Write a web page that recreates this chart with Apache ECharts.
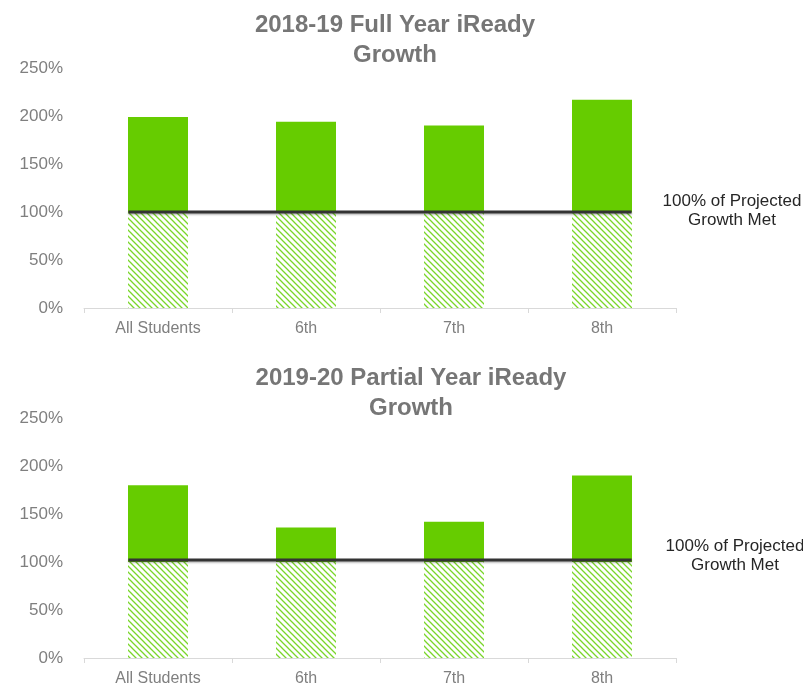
<!DOCTYPE html>
<html>
<head>
<meta charset="utf-8">
<script src="https://cdn.jsdelivr.net/npm/echarts@6/dist/echarts.min.js"></script>
<style>
  html, body { margin: 0; padding: 0; background: #fff; }
  #wrap { width: 803px; height: 690px; }
</style>
</head>
<body>
<div id="wrap"></div>
<script>
// data
var categories = ['All Students', '6th', '7th', '8th'];
var growth1819 = [199, 194, 190, 217];
var growth1920 = [180, 136, 142, 190];
var baseline = [100, 100, 100, 100];     // hatched part of every bar
var target1819 = 100;                    // black "100%" line
var target1920 = 102;
var lineSpan = [-0.2, 3.2];              // line runs from first bar edge to last bar edge
var yTicks = [0, 250, 50];               // min, max, interval

var titles = ['2018-19 Full Year iReady\nGrowth', '2019-20 Partial Year iReady\nGrowth'];
var note = '100% of Projected\nGrowth Met';

var font = 'Liberation Sans, Arial, sans-serif';
var green = '#66cc00';

// diagonal hatch for the part below 100%
function hatch() {
  var c = document.createElement('canvas');
  c.width = 6; c.height = 6;
  var ctx = c.getContext('2d');
  ctx.strokeStyle = '#7ad62a';
  ctx.lineWidth = 1.3;
  ctx.beginPath();
  ctx.moveTo(-1, -1); ctx.lineTo(7, 7);
  ctx.moveTo(-1, 5); ctx.lineTo(1, 7);
  ctx.moveTo(5, -1); ctx.lineTo(7, 1);
  ctx.stroke();
  return c;
}
var pattern = { image: hatch(), repeat: 'repeat' };

function above(vals) {
  return vals.map(function (v, i) { return v - baseline[i]; });
}

function catAxis(idx) {
  return {
    type: 'category', gridIndex: idx, data: categories,
    axisLine: { lineStyle: { color: '#d9d9d9', width: 1 } },
    axisTick: { show: true, length: 5, lineStyle: { color: '#d9d9d9' } },
    axisLabel: { color: '#7f7f7f', fontSize: 16, fontFamily: font, margin: 13 }
  };
}
function spanAxis(idx) {
  return { type: 'value', gridIndex: idx, min: -0.5, max: 3.5, show: false };
}
function valAxis(idx) {
  return {
    type: 'value', gridIndex: idx, min: yTicks[0], max: yTicks[1], interval: yTicks[2],
    axisLine: { show: false }, axisTick: { show: false }, splitLine: { show: false },
    axisLabel: { formatter: '{value}%', color: '#7f7f7f', fontSize: 17, fontFamily: font, margin: 21 }
  };
}
function barSeries(idx, vals) {
  return [
    {
      type: 'bar', xAxisIndex: idx * 2, yAxisIndex: idx, stack: 's' + idx,
      barWidth: 60, data: baseline, silent: true,
      itemStyle: { color: pattern }
    },
    {
      type: 'bar', xAxisIndex: idx * 2, yAxisIndex: idx, stack: 's' + idx,
      barWidth: 60, data: above(vals), silent: true,
      itemStyle: { color: green }
    }
  ];
}
function lineSeries(idx, t) {
  return {
    type: 'line', xAxisIndex: idx * 2 + 1, yAxisIndex: idx, symbol: 'none', silent: true,
    data: [[lineSpan[0], t], [lineSpan[1], t]],
    lineStyle: { color: '#333', width: 3, shadowColor: 'rgba(0,0,0,0.25)', shadowBlur: 2, shadowOffsetY: 1.5 },
    z: 5
  };
}

var titleStyle = { color: '#767676', fontSize: 24, fontWeight: 'bold', fontFamily: font, lineHeight: 30 };
var noteStyle = { color: '#262626', fontSize: 17, fontWeight: 'normal', fontFamily: font, lineHeight: 19 };

var option = {
  animation: false,
  title: [
    { text: titles[0], left: 390, top: 5, textAlign: 'center', textStyle: titleStyle },
    { text: titles[1], left: 406, top: 358, textAlign: 'center', textStyle: titleStyle },
    { text: note, left: 727, top: 187, textAlign: 'center', textStyle: noteStyle },
    { text: note, left: 730, top: 532, textAlign: 'center', textStyle: noteStyle }
  ],
  grid: [
    { left: 84, right: 127, top: 68, height: 240 },
    { left: 84, right: 127, top: 418, height: 240 }
  ],
  xAxis: [catAxis(0), spanAxis(0), catAxis(1), spanAxis(1)],
  yAxis: [valAxis(0), valAxis(1)],
  series: []
    .concat(barSeries(0, growth1819))
    .concat(barSeries(1, growth1920))
    .concat([lineSeries(0, target1819), lineSeries(1, target1920)])
};

var myChart = echarts.init(document.getElementById('wrap'));
myChart.setOption(option);
</script>
</body>
</html>
